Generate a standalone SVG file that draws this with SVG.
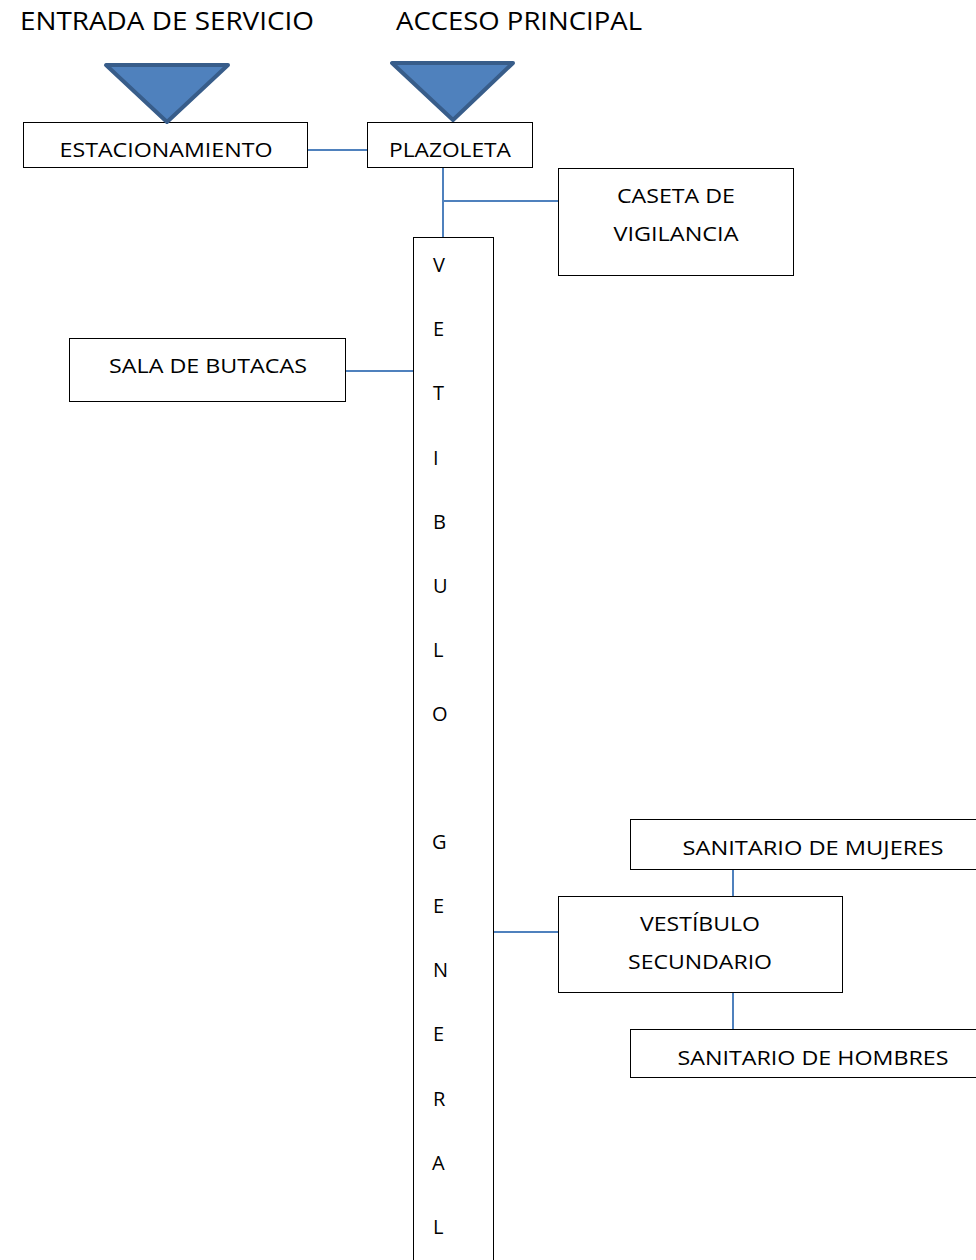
<svg xmlns="http://www.w3.org/2000/svg" width="976" height="1260" viewBox="0 0 976 1260">
<style>
.box{fill:#fff;stroke:#000;stroke-width:1}
.t{font-family:"Open Sans","Liberation Sans",sans-serif;font-size:20px;fill:#000}
.c{text-anchor:middle}
.h{font-family:"Open Sans","Liberation Sans",sans-serif;font-size:25px;fill:#000}
.tri{fill:#4F81BD;stroke:#385D8A;stroke-width:4;stroke-linejoin:round}
.ln{stroke:#4F81BD;stroke-width:2;fill:none}
</style>
<rect width="976" height="1260" fill="#fff"/>
<text class="h" x="20" y="30" textLength="294" lengthAdjust="spacingAndGlyphs">ENTRADA DE SERVICIO</text>
<text class="h" x="396" y="30" textLength="246" lengthAdjust="spacingAndGlyphs">ACCESO PRINCIPAL</text>
<g id="connectors">
<line class="ln" x1="308" y1="150" x2="367" y2="150"/>
<line class="ln" x1="443" y1="168" x2="443" y2="237"/>
<line class="ln" x1="443" y1="201" x2="558" y2="201"/>
<line class="ln" x1="346" y1="371" x2="413" y2="371"/>
<line class="ln" x1="494" y1="932" x2="558" y2="932"/>
<line class="ln" x1="733" y1="870" x2="733" y2="896"/>
<line class="ln" x1="733" y1="993" x2="733" y2="1029"/>
</g>
<g id="estacionamiento">
<rect class="box" x="23.5" y="122.5" width="284" height="45"/>
<text class="t c" x="166" y="157" textLength="213" lengthAdjust="spacingAndGlyphs">ESTACIONAMIENTO</text>
</g>
<g id="plazoleta">
<rect class="box" x="367.5" y="122.5" width="165" height="45"/>
<text class="t c" x="450" y="157" textLength="122" lengthAdjust="spacingAndGlyphs">PLAZOLETA</text>
</g>
<g id="entrada-servicio">
<polygon class="tri" points="106,65 228,65 167,122"/>
</g>
<g id="acceso-principal">
<polygon class="tri" points="392,63 513,63 453,120"/>
</g>
<g id="caseta">
<rect class="box" x="558.5" y="168.5" width="235" height="107"/>
<text class="t c" x="676" y="203" textLength="118" lengthAdjust="spacingAndGlyphs">CASETA DE</text>
<text class="t c" x="676" y="241" textLength="125" lengthAdjust="spacingAndGlyphs">VIGILANCIA</text>
</g>
<g id="sala-butacas">
<rect class="box" x="69.5" y="338.5" width="276" height="63"/>
<text class="t c" x="208" y="373" textLength="198" lengthAdjust="spacingAndGlyphs">SALA DE BUTACAS</text>
</g>
<g id="vestibulo-general">
<rect class="box" x="413.5" y="237.5" width="80" height="1030"/>
<text class="t" x="433" y="272">V</text>
<text class="t" x="433" y="336">E</text>
<text class="t" x="433" y="400">T</text>
<text class="t" x="433" y="465">I</text>
<text class="t" x="433" y="529">B</text>
<text class="t" x="433" y="593">U</text>
<text class="t" x="433" y="657">L</text>
<text class="t" x="432" y="721">O</text>
<text class="t" x="432" y="849">G</text>
<text class="t" x="433" y="913">E</text>
<text class="t" x="433" y="977">N</text>
<text class="t" x="433" y="1041">E</text>
<text class="t" x="433" y="1106">R</text>
<text class="t" x="432" y="1170">A</text>
<text class="t" x="433" y="1234">L</text>
</g>
<g id="vestibulo-secundario">
<rect class="box" x="558.5" y="896.5" width="284" height="96"/>
<text class="t c" x="700" y="931" textLength="120" lengthAdjust="spacingAndGlyphs">VESTÍBULO</text>
<text class="t c" x="700" y="969" textLength="144" lengthAdjust="spacingAndGlyphs">SECUNDARIO</text>
</g>
<g id="sanitario-mujeres">
<rect class="box" x="630.5" y="819.5" width="360" height="50"/>
<text class="t c" x="813" y="855" textLength="261" lengthAdjust="spacingAndGlyphs">SANITARIO DE MUJERES</text>
</g>
<g id="sanitario-hombres">
<rect class="box" x="630.5" y="1029.5" width="360" height="48"/>
<text class="t c" x="813" y="1065" textLength="271" lengthAdjust="spacingAndGlyphs">SANITARIO DE HOMBRES</text>
</g>
</svg>
